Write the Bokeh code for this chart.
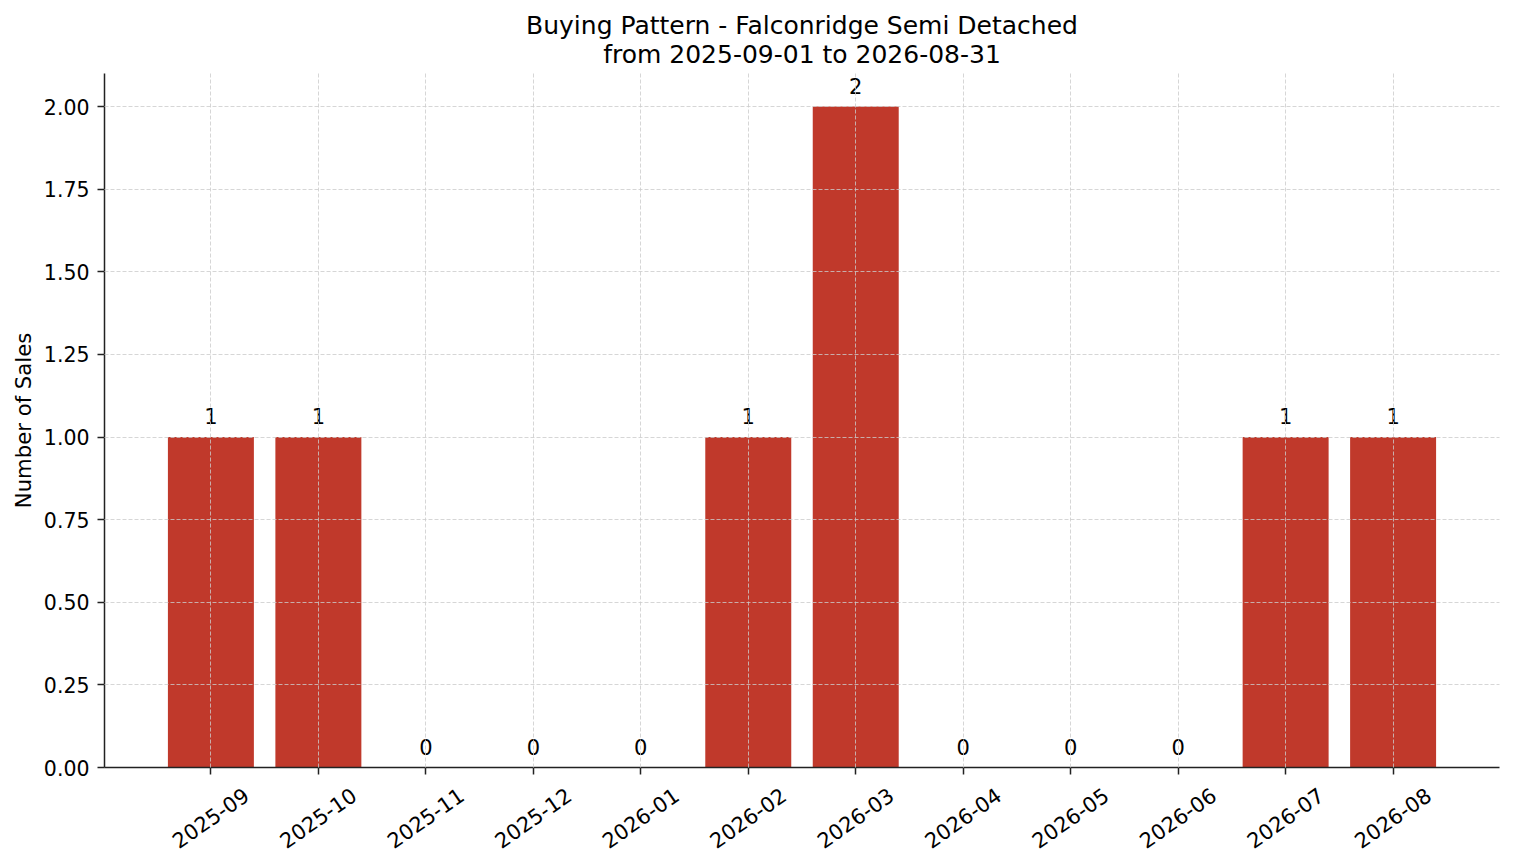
import math

from bokeh.plotting import figure
from bokeh.models import (ColumnDataSource, FixedTicker, NumeralTickFormatter,
                          LinearAxis, Range1d)
from bokeh.core.properties import value
from bokeh.embed import file_html
from bokeh.resources import INLINE

# data
months = ['2025-09', '2025-10', '2025-11', '2025-12', '2026-01', '2026-02',
          '2026-03', '2026-04', '2026-05', '2026-06', '2026-07', '2026-08']
sales = [1, 1, 0, 0, 0, 1, 2, 0, 0, 0, 1, 1]
y_ticks = [0.0, 0.25, 0.5, 0.75, 1.0, 1.25, 1.5, 1.75, 2.0]
title = "Buying Pattern - Falconridge Semi Detached\nfrom 2025-09-01 to 2026-08-31"

FONT = "DejaVu Sans"
BAR = "#c0392b"
SPINE = "#222222"

idx = list(range(len(months)))
src = ColumnDataSource(data=dict(x=idx, top=sales, lab=[str(s) for s in sales]))

x_lo, x_hi = -0.99, 11.99
# rotated labels are anchored at their right end, so a second axis on a
# shifted range puts each label's centre back under its tick
shift = 0.33

# Create the figure: p
p = figure(width=1506, height=858, output_backend="svg", toolbar_location=None,
           x_range=Range1d(x_lo, x_hi), y_range=Range1d(0, 2.1),
           min_border_left=104, min_border_right=7, min_border_top=73,
           min_border_bottom=88)
p.extra_x_ranges = {"lab": Range1d(x_lo - shift, x_hi - shift)}
p.outline_line_color = None
p.background_fill_color = "white"
p.border_fill_color = "white"

# title, two lines
p.title.text = title
p.title.align = "center"
p.title.text_align = "center"
p.title.text_font = FONT
p.title.text_font_size = "25px"
p.title.text_font_style = "normal"
p.title.text_color = "black"
p.title.text_line_height = 1.0
p.title.standoff = 9

# bars
p.vbar(x='x', top='top', width=0.8, source=src, fill_color=BAR,
       line_color=None)

# value labels above each bar
p.text(x='x', y='top', text='lab', source=src, text_align="center",
       text_baseline="alphabetic", y_offset=-21, text_font=value(FONT),
       text_font_size="21px", text_color="black")

# y axis
p.yaxis.axis_label = "Number of Sales"
p.yaxis.axis_label_text_font = FONT
p.yaxis.axis_label_text_font_size = "21.2px"
p.yaxis.axis_label_text_font_style = "normal"
p.yaxis.axis_label_text_color = "black"
p.yaxis.axis_label_standoff = 5
p.yaxis.ticker = FixedTicker(ticks=y_ticks)
p.yaxis.formatter = NumeralTickFormatter(format="0.00")
p.yaxis.major_label_text_font_size = "20.5px"
p.yaxis.major_label_standoff = 8

# x axis: spine and ticks only (ticks given as minor ticks, no labels)
p.xaxis.ticker = FixedTicker(ticks=[], minor_ticks=idx)
p.xaxis.minor_tick_line_color = SPINE
p.xaxis.minor_tick_line_width = 1.5
p.xaxis.minor_tick_in = 0
p.xaxis.minor_tick_out = 7

for ax in (p.xaxis, p.yaxis):
    ax.axis_line_color = SPINE
    ax.axis_line_width = 1.5
    ax.major_tick_line_color = SPINE
    ax.major_tick_line_width = 1.5
    ax.major_tick_in = 0
    ax.major_tick_out = 7
    ax.major_label_text_font = FONT
    ax.major_label_text_color = "black"
p.yaxis.minor_tick_line_color = None

# month labels on their own axis
lab_axis = LinearAxis(x_range_name="lab", ticker=FixedTicker(ticks=idx),
                      major_label_overrides={i: m for i, m in zip(idx, months)},
                      major_label_orientation=math.radians(35),
                      axis_line_color=None, major_tick_line_color=None,
                      minor_tick_line_color=None,
                      major_label_standoff=12,
                      major_label_text_font=FONT,
                      major_label_text_font_size="21px",
                      major_label_text_color="black")
p.add_layout(lab_axis, "below")

# dashed grid drawn over the bars
for g in (p.xgrid, p.ygrid):
    g.grid_line_color = "#cccccc"
    g.grid_line_dash = "4 2"
    g.grid_line_width = 0.8
    g.level = "overlay"
p.ygrid.ticker = FixedTicker(ticks=y_ticks)
p.xgrid.ticker = FixedTicker(ticks=idx)

open("out.html", "w").write(file_html(p, INLINE))
